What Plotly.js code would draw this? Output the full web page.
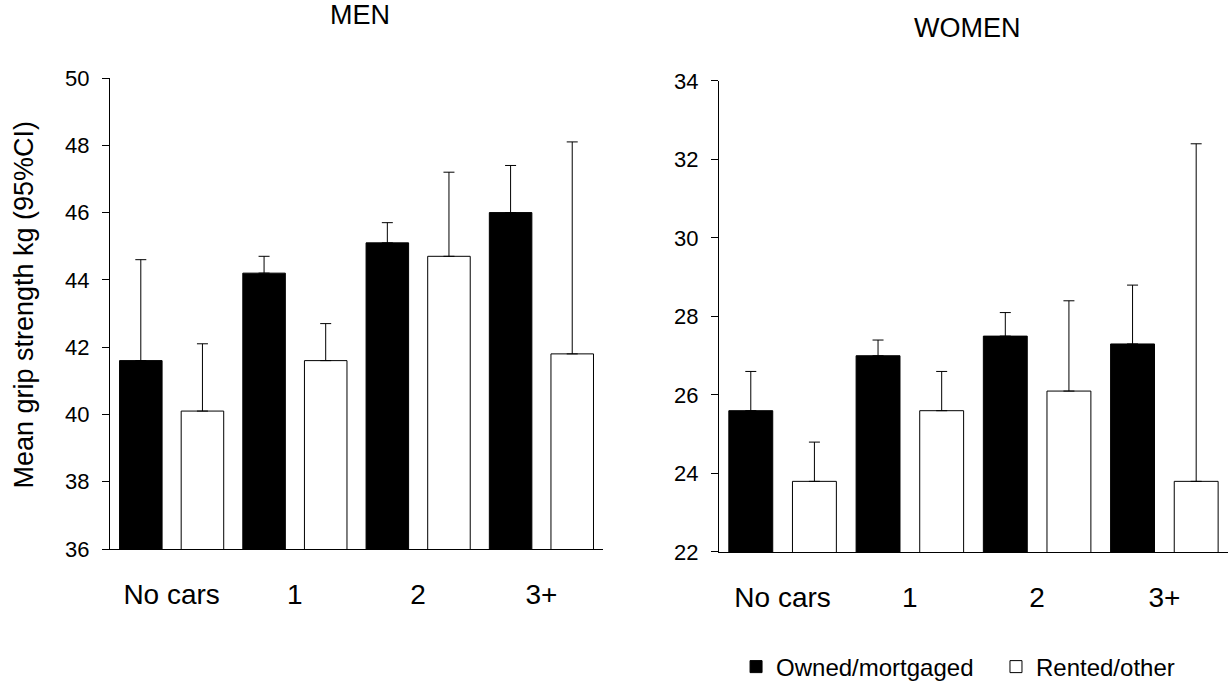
<!DOCTYPE html>
<html>
<head>
<meta charset="utf-8">
<script src="https://cdn.plot.ly/plotly-3.0.1.min.js"></script>
<style>html,body{margin:0;padding:0;background:#fff;}#chart{width:1229px;height:683px;}</style>
</head>
<body>
<div id="chart"></div>
<script>
const categories = ["No cars", "1", "2", "3+"];
const seriesNames = ["Owned/mortgaged", "Rented/other"];

const menOwned = [41.6, 44.2, 45.1, 46.0];
const menOwnedUpper = [44.6, 44.7, 45.7, 47.4];
const menRented = [40.1, 41.6, 44.7, 41.8];
const menRentedUpper = [42.1, 42.7, 47.2, 48.1];

const womenOwned = [25.6, 27.0, 27.5, 27.3];
const womenOwnedUpper = [26.6, 27.4, 28.1, 28.8];
const womenRented = [23.8, 25.6, 26.1, 23.8];
const womenRentedUpper = [24.8, 26.6, 28.4, 32.4];

const menTicks = [36, 38, 40, 42, 44, 46, 48, 50];
const womenTicks = [22, 24, 26, 28, 30, 32, 34];

const FONT = '"Liberation Sans", Arial, sans-serif';

function plusErr(vals, upper) {
  return {
    type: 'data', symmetric: false,
    array: upper.map((u, i) => +(u - vals[i]).toFixed(3)),
    arrayminus: vals.map(() => 0),
    color: '#000', thickness: 1, width: 5.5
  };
}

function barTrace(vals, upper, name, fill, xa, ya, show, leg) {
  return {
    type: 'bar', x: categories, y: vals, name: name,
    xaxis: xa, yaxis: ya, showlegend: show, legendgroup: name, legend: leg,
    marker: {color: fill, line: {color: '#000', width: 1}},
    error_y: plusErr(vals, upper),
    hoverinfo: 'x+y'
  };
}

const data = [
  barTrace(menOwned, menOwnedUpper, seriesNames[0], '#000', 'x', 'y', true, 'legend'),
  barTrace(menRented, menRentedUpper, seriesNames[1], '#fff', 'x', 'y', true, 'legend2'),
  barTrace(womenOwned, womenOwnedUpper, seriesNames[0], '#000', 'x2', 'y2', false, 'legend'),
  barTrace(womenRented, womenRentedUpper, seriesNames[1], '#fff', 'x2', 'y2', false, 'legend2')
];

const xBase = {
  type: 'category', range: [-0.5, 3.5], showline: true, linecolor: '#000', linewidth: 1,
  ticks: '', showgrid: false, zeroline: false, fixedrange: true,
  tickfont: {family: FONT, size: 28, color: '#000'}, ticklabelstandoff: 20
};
const yBase = {
  showline: true, linecolor: '#000', linewidth: 1, ticks: 'outside', ticklen: 7,
  tickcolor: '#000', tickwidth: 1, showgrid: false, zeroline: false, fixedrange: true,
  tickfont: {family: FONT, size: 22, color: '#000'}, ticklabelstandoff: 8
};

const legendBase = {
  orientation: 'h', xref: 'container', yref: 'container', xanchor: 'left', y: 0.0234, yanchor: 'middle',
  font: {family: FONT, size: 24, color: '#000'}, bgcolor: 'rgba(0,0,0,0)', itemclick: false
};

const layout = {
  width: 1229, height: 683,
  margin: {l: 110, r: 1, t: 78, b: 131},
  paper_bgcolor: '#fff', plot_bgcolor: '#fff',
  font: {family: FONT, color: '#000'},
  barmode: 'group', bargap: 0, bargroupgap: 0.31,
  xaxis: Object.assign({}, xBase, {domain: [0, 0.441], anchor: 'y'}),
  yaxis: Object.assign({}, yBase, {domain: [0.0063, 1], range: [36, 50], tickvals: menTicks, anchor: 'x'}),
  xaxis2: Object.assign({}, xBase, {domain: [0.5447, 1], anchor: 'y2'}),
  yaxis2: Object.assign({}, yBase, {domain: [0, 0.9937], range: [22, 34], tickvals: womenTicks, anchor: 'x2'}),
  showlegend: true,
  legend: Object.assign({}, legendBase, {x: 0.5989}),
  legend2: Object.assign({}, legendBase, {x: 0.8104}),
  annotations: [
    {text: 'MEN', xref: 'paper', yref: 'paper', x: 0.2236, y: 1.1329, xanchor: 'center', yanchor: 'middle', showarrow: false,
     font: {family: FONT, size: 27, color: '#000'}},
    {text: 'WOMEN', xref: 'paper', yref: 'paper', x: 0.7666, y: 1.1055, xanchor: 'center', yanchor: 'middle', showarrow: false,
     font: {family: FONT, size: 27, color: '#000'}},
    {text: 'Mean grip strength kg (95%CI)', xref: 'paper', yref: 'paper', x: -0.0769, y: 0.522, textangle: -90,
     xanchor: 'center', yanchor: 'middle', showarrow: false, font: {family: FONT, size: 27, color: '#000'}}
  ]
};

Plotly.newPlot('chart', data, layout, {displayModeBar: false, staticPlot: true});
</script>
</body>
</html>
